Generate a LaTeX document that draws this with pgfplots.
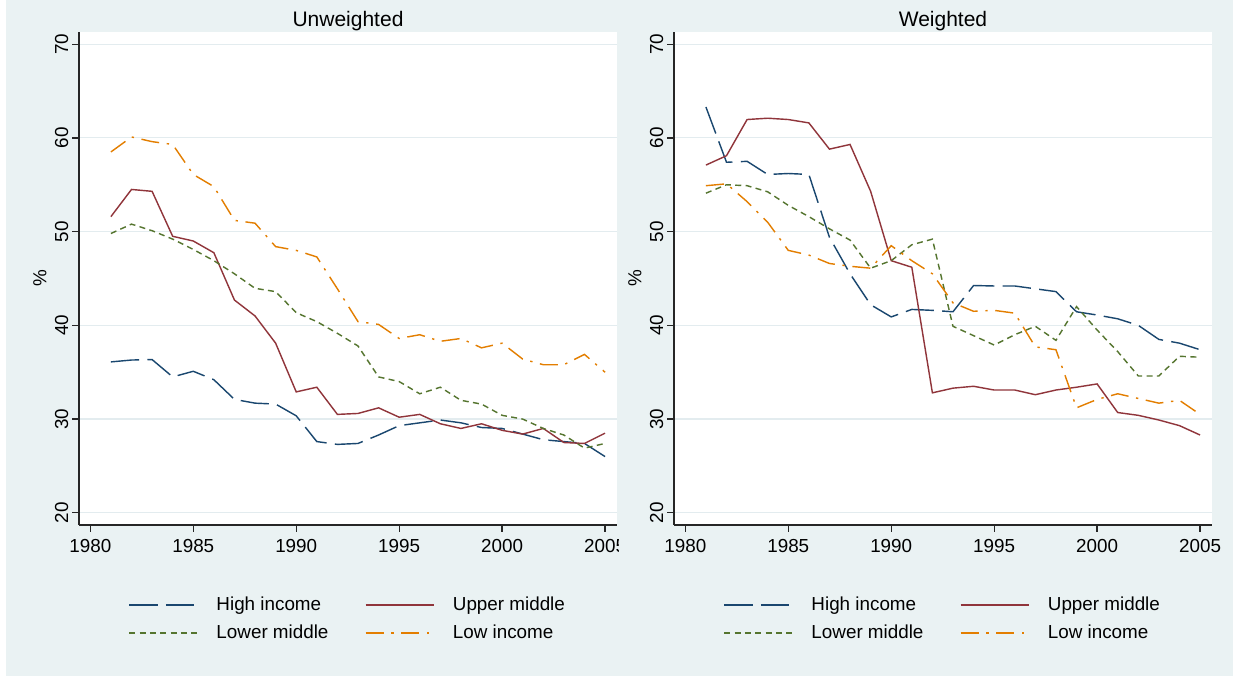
\documentclass[border=0pt]{standalone}
\usepackage{pgfplots}
\pgfplotsset{compat=1.18}
\usepackage{pgfplotstable}
\usepackage{fontspec}
\setmainfont{Liberation Sans}
\definecolor{bgc}{HTML}{EAF2F3}
\definecolor{gridc}{HTML}{E3ECEF}
\definecolor{c1}{HTML}{1A476F}
\definecolor{c2}{HTML}{90353B}
\definecolor{c3}{HTML}{55752F}
\definecolor{c4}{HTML}{E37E00}

\pgfplotstableread{
year HI UM LM LI
1981 36.1 51.6 49.8 58.5
1982 36.3 54.5 50.8 60.1
1983 36.35 54.3 50.1 59.6
1984 34.5 49.5 49.2 59.3
1985 35.1 49.0 48.1 56.1
1986 34.2 47.75 46.9 54.8
1987 32.1 42.7 45.5 51.2
1988 31.7 41.0 43.95 50.9
1989 31.6 38.1 43.6 48.4
1990 30.35 32.9 41.35 48.0
1991 27.6 33.4 40.4 47.3
1992 27.3 30.5 39.15 43.9
1993 27.4 30.6 37.8 40.4
1994 28.3 31.2 34.5 40.1
1995 29.3 30.2 34.0 38.6
1996 29.6 30.5 32.7 39.0
1997 29.9 29.5 33.4 38.3
1998 29.6 29.0 32.0 38.6
1999 29.1 29.5 31.6 37.6
2000 29.0 28.8 30.4 38.1
2001 28.4 28.4 30.0 36.4
2002 27.8 29.0 29.0 35.8
2003 27.6 27.5 28.3 35.8
2004 27.4 27.4 26.9 36.9
2005 26.0 28.5 27.4 35.0
}\unw

\pgfplotstableread{
year HI UM LM LI
1981 63.3 57.1 54.1 54.9
1982 57.4 58.1 55.0 55.1
1983 57.5 61.96 54.9 53.2
1984 56.1 62.1 54.25 51.0
1985 56.2 61.96 52.8 48.0
1986 56.1 61.6 51.6 47.5
1987 49.4 58.8 50.3 46.6
1988 45.5 59.3 49.1 46.3
1989 42.2 54.3 46.1 46.1
1990 40.9 46.9 46.9 48.5
1991 41.7 46.2 48.6 46.9
1992 41.6 32.8 49.2 45.5
1993 41.45 33.3 39.9 42.4
1994 44.25 33.5 38.9 41.5
1995 44.2 33.1 37.9 41.6
1996 44.2 33.1 39.0 41.3
1997 43.9 32.6 39.9 37.7
1998 43.6 33.1 38.4 37.4
1999 41.45 33.4 42.0 31.2
2000 41.1 33.75 39.5 32.1
2001 40.7 30.7 37.2 32.7
2002 40.0 30.4 34.6 32.2
2003 38.5 29.9 34.6 31.7
2004 38.1 29.3 36.7 32.0
2005 37.4 28.3 36.6 30.5
}\wei

\pgfplotsset{
  panel/.style={
    scale only axis, width=322.8pt, height=295.8pt,
    xmin=1979.45, xmax=2005.58, ymin=18.7, ymax=71.3,
    axis x line*=bottom, axis y line*=left,
    axis line style={-, line width=0.75pt, color=black!85},
    axis background/.style={fill=white},
    xtick={1980,1985,1990,1995,2000,2005},
    xticklabels={1980,1985,1990,1995,2000,2005},
    ytick={20,30,40,50,60,70},
    yticklabels={20,30,40,50,60,70},
    tick align=outside, major tick length=4.2pt,
    tick style={line width=0.75pt, color=black!85},
    ymajorgrids, grid style={line width=0.7pt, color=gridc},
    tick label style={font=\fontsize{11.3}{13}\selectfont},
    yticklabel style={rotate=90, anchor=south, inner sep=2pt},
    xticklabel style={inner sep=2pt, yshift=-2pt},
    ylabel={\%},
    every axis y label/.style={at={(rel axis cs:0,0.5)}, rotate=90, anchor=center, yshift=23.4pt, font=\fontsize{11.3}{13}\selectfont},
    every axis title shift=0pt,
    title style={at={(0.5,1)}, anchor=base, yshift=3pt, font=\fontsize{12.6}{14}\selectfont},
    legend columns=2,
    legend style={at={(0.5,-0.1907)}, anchor=center, draw=none, fill=none,
      font=\fontsize{11.3}{13}\selectfont, row sep=2.8pt,
      nodes={inner sep=1.5pt, text height=8.5pt, text depth=2.5pt},
      /tikz/every odd column/.append style={column sep=9.6pt},
      /tikz/every even column/.append style={column sep=20.4pt}},
    legend cell align=left,
    legend image code/.code={\draw[##1] (0pt,0pt) -- (40.8pt,0pt);},
  },
  hi/.style={c1, line width=0.85pt, dash pattern=on 17pt off 5pt},
  um/.style={c2, line width=0.85pt},
  lm/.style={c3, line width=0.85pt, dash pattern=on 3.6pt off 2.6pt},
  li/.style={c4, line width=0.85pt, dash pattern=on 10.8pt off 4.6pt on 1.4pt off 4.6pt},
}

\begin{document}
\begin{tikzpicture}
\fill[white] (0,0) rectangle (739.8pt,406.2pt);
\fill[bgc] (3.6pt,0.6pt) rectangle (739.8pt,406.2pt);
\begin{axis}[panel, at={(47.4pt,91.2pt)}, title={Unweighted}]
\addplot[hi] table[x=year,y=HI]{\unw}; \addlegendentry{High income}
\addplot[um] table[x=year,y=UM]{\unw}; \addlegendentry{Upper middle}
\addplot[lm] table[x=year,y=LM]{\unw}; \addlegendentry{Lower middle}
\addplot[li] table[x=year,y=LI]{\unw}; \addlegendentry{Low income}
\end{axis}
\fill[bgc] (371.4pt,0.6pt) rectangle (739.8pt,406.2pt);
\begin{axis}[panel, at={(404.4pt,91.2pt)}, title={Weighted}]
\addplot[hi] table[x=year,y=HI]{\wei}; \addlegendentry{High income}
\addplot[um] table[x=year,y=UM]{\wei}; \addlegendentry{Upper middle}
\addplot[lm] table[x=year,y=LM]{\wei}; \addlegendentry{Lower middle}
\addplot[li] table[x=year,y=LI]{\wei}; \addlegendentry{Low income}
\end{axis}
\pgfresetboundingbox
\path (0,0) rectangle (739.8pt,406.2pt);
\end{tikzpicture}
\end{document}
